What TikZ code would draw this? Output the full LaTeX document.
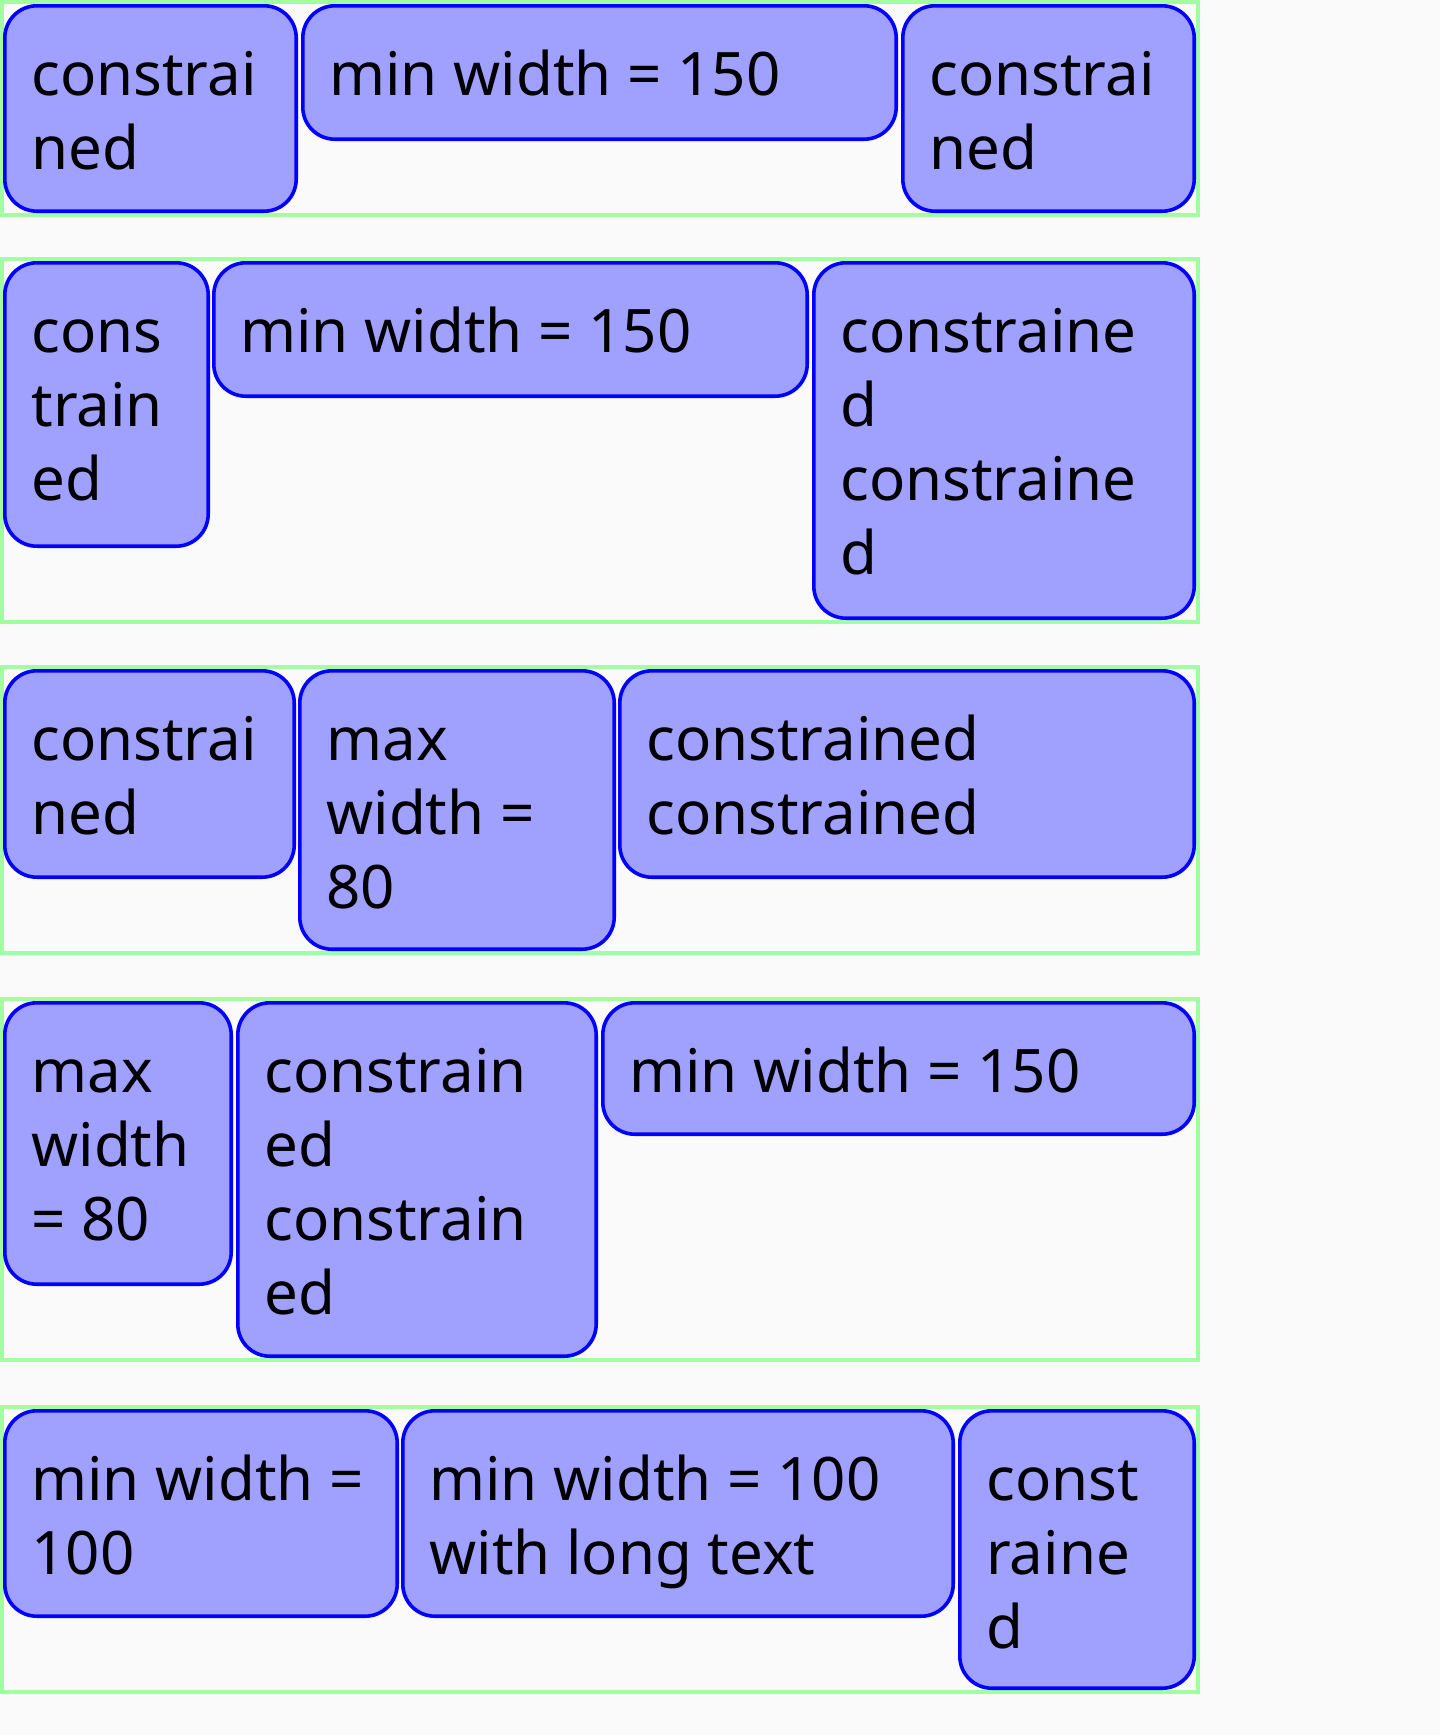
\documentclass[tikz,border=0pt]{standalone}
\usepackage{fontspec}
\setmainfont{Noto Sans}
\definecolor{page}{HTML}{FAFAFA}
\definecolor{cellfill}{HTML}{A0A0FF}
\definecolor{cellline}{HTML}{0000FF}
\definecolor{rowline}{HTML}{A0FFA0}
\tikzset{
  cellbox/.style={rectangle, draw=cellline, fill=cellfill, line width=1.8pt,
    rounded corners=16pt, inner sep=0pt, outer sep=0pt},
  rowbox/.style={rectangle, draw=rowline, line width=2.2pt, inner sep=0pt, outer sep=0pt},
  celltext/.style={anchor=base west, inner sep=0pt, text=black,
    font=\fontsize{30pt}{37pt}\selectfont},
}
% one row container: name, outer top, outer bottom (pixel units)
\newcommand\rowframe[3]{%
  \node[rowbox, minimum width={(1200-4.4)*0.5pt}, minimum height={(#3-#2-4.4)*0.5pt}]
    (#1) at (600,{(#2+#3)/2}) {};}
% one cell: name, outer left, top, right, bottom, stacked lines
\newcommand\cell[6]{%
  \node[cellbox, minimum width={(#4-#2-3.6)*0.5pt}, minimum height={(#5-#3-3.6)*0.5pt}]
    (#1) at ({(#2+#4)/2},{(#3+#5)/2}) {};
  \node[celltext] (#1-text) at ({#2+28},{#3+91}) {\vtop{#6}};}
\newcommand\tline[1]{\hbox{#1}}
\begin{document}
\begin{tikzpicture}[x=0.5pt, y=-0.5pt]
  \fill[page] (0,0) rectangle (1440,1735);
  \useasboundingbox (0,0) rectangle (1440,1735);

  % containers
  \rowframe{rowA}{0}{217}
  \rowframe{rowB}{257}{624}
  \rowframe{rowC}{665}{955}
  \rowframe{rowD}{997}{1362}
  \rowframe{rowE}{1405}{1694}

  % row A
  \cell{a1}{3}{4}{298}{213}{\tline{constrai}\tline{ned}}
  \cell{a2}{301}{4}{898}{141}{\tline{min width = 150}}
  \cell{a3}{901}{4}{1196}{213}{\tline{constrai}\tline{ned}}

  % row B
  \cell{b1}{3}{261}{210}{548}{\tline{cons}\tline{train}\tline{ed}}
  \cell{b2}{212}{261}{809}{398}{\tline{min width = 150}}
  \cell{b3}{812}{261}{1196}{620}{\tline{constraine}\tline{d}\tline{constraine}\tline{d}}

  % row C
  \cell{c1}{3}{669}{296}{879}{\tline{constrai}\tline{ned}}
  \cell{c2}{298}{669}{616}{951}{\tline{max}\tline{width =}\tline{80}}
  \cell{c3}{618}{669}{1196}{879}{\tline{constrained}\tline{constrained}}

  % row D
  \cell{d1}{3}{1001}{233}{1286}{\tline{max}\tline{width}\tline{= 80}}
  \cell{d2}{236}{1001}{598}{1358}{\tline{constrain}\tline{ed}\tline{constrain}\tline{ed}}
  \cell{d3}{601}{1001}{1196}{1136}{\tline{min width = 150}}

  % row E
  \cell{e1}{3}{1409}{399}{1618}{\tline{min width =}\tline{100}}
  \cell{e2}{401}{1409}{955}{1618}{\tline{min width = 100}\tline{with long text}}
  \cell{e3}{958}{1409}{1196}{1690}{\tline{const}\tline{raine}\tline{d}}
\end{tikzpicture}
\end{document}
